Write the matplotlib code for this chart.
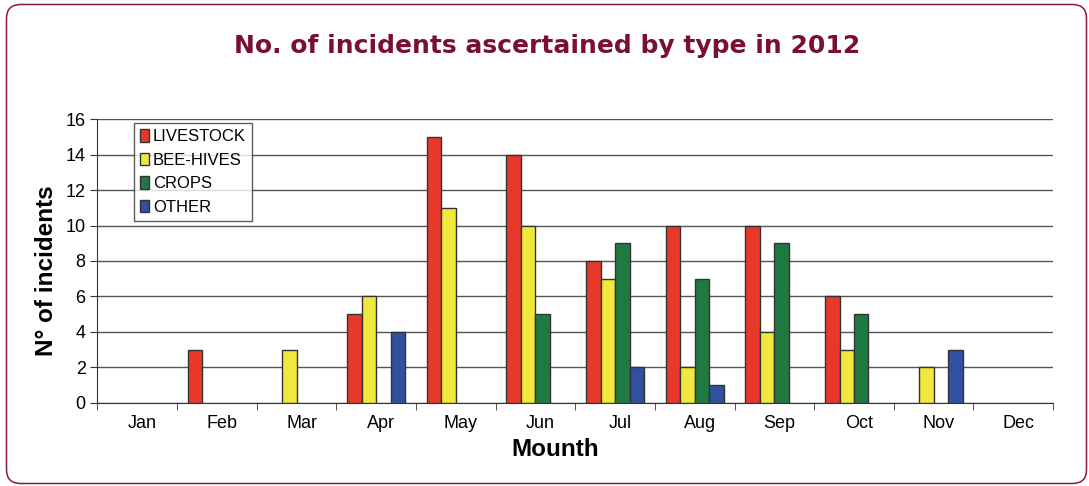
import numpy as np
import matplotlib
matplotlib.use("Agg")
import matplotlib.pyplot as plt
import matplotlib.transforms as mtransforms
from matplotlib.patches import FancyBboxPatch

plt.rcParams['font.family'] = ['Liberation Sans', 'DejaVu Sans']

months = ['Jan', 'Feb', 'Mar', 'Apr', 'May', 'Jun', 'Jul', 'Aug', 'Sep', 'Oct', 'Nov', 'Dec']
livestock = [0, 3, 0, 5, 15, 14, 8, 10, 10, 6, 0, 0]
beehives = [0, 0, 3, 6, 11, 10, 7, 2, 4, 3, 2, 0]
crops = [0, 0, 0, 0, 0, 5, 9, 7, 9, 5, 0, 0]
other = [0, 0, 0, 4, 0, 0, 2, 1, 0, 0, 3, 0]

series = [('LIVESTOCK', livestock, '#e8382a'),
          ('BEE-HIVES', beehives, '#f0e83c'),
          ('CROPS', crops, '#1e7a40'),
          ('OTHER', other, '#3050a0')]

fig = plt.figure(figsize=(10.89, 4.86), dpi=100)
# rounded border (inches)
border = FancyBboxPatch((0.065, 0.025), 10.80, 4.79, boxstyle="round,pad=0,rounding_size=0.14",
                        transform=fig.dpi_scale_trans, fill=False, edgecolor='#8a1a3a', linewidth=1.1)
fig.patches.append(border)

ax = fig.add_axes([0.0895, 0.171, 0.8775, 0.584])
x = np.arange(len(months))
w = 1 / 5.5
for i, (name, vals, col) in enumerate(series):
    v = np.array(vals, dtype=float)
    m = v > 0
    ax.bar(x[m] + (i - 1.5) * w, v[m], w, color=col, edgecolor='#333333', linewidth=1, label=name, zorder=3)

ax.set_xlim(-0.5, 11.5)
ax.set_ylim(0, 16)
ax.set_yticks(range(0, 17, 2))
ax.yaxis.grid(True, color='#555555', linewidth=1, zorder=0)
ax.set_xticks(x)
ax.set_xticklabels(months)
ax.set_xticks(np.arange(-0.5, 12, 1), minor=True)
ax.tick_params(axis='x', which='major', length=0, labelsize=13, pad=9)
ax.tick_params(axis='x', which='minor', length=5, direction='out', color='#333333')
ax.tick_params(axis='y', labelsize=13, length=5, color='#333333')
off = mtransforms.ScaledTranslation(5 / 100, 0, fig.dpi_scale_trans)
for lab in ax.get_xticklabels():
    lab.set_transform(lab.get_transform() + off)
for s in ['top', 'right']:
    ax.spines[s].set_visible(False)
ax.spines['left'].set_color('#333333')
ax.spines['bottom'].set_color('#333333')

ax.set_xlabel('Mounth', fontsize=17.5, fontweight='bold')
ax.set_ylabel('N° of incidents', fontsize=17.5, fontweight='bold')
ax.xaxis.set_label_coords(0.479, -0.125)
ax.yaxis.set_label_coords(-0.041, 0.467)

leg = ax.legend(loc='upper left', bbox_to_anchor=(0.038, 0.985), fontsize=12, frameon=True,
                fancybox=False, edgecolor='#333333', handlelength=0.55, handleheight=0.8,
                handletextpad=0.25, labelspacing=0.5, borderpad=0.35, borderaxespad=0)
leg.get_frame().set_linewidth(1)

fig.text(0.502, 0.905, 'No. of incidents ascertained by type in 2012', ha='center', va='center',
         fontsize=18, fontweight='bold', color='#7a1030', family=['DejaVu Sans'])

fig.savefig('out.png', dpi=100)
